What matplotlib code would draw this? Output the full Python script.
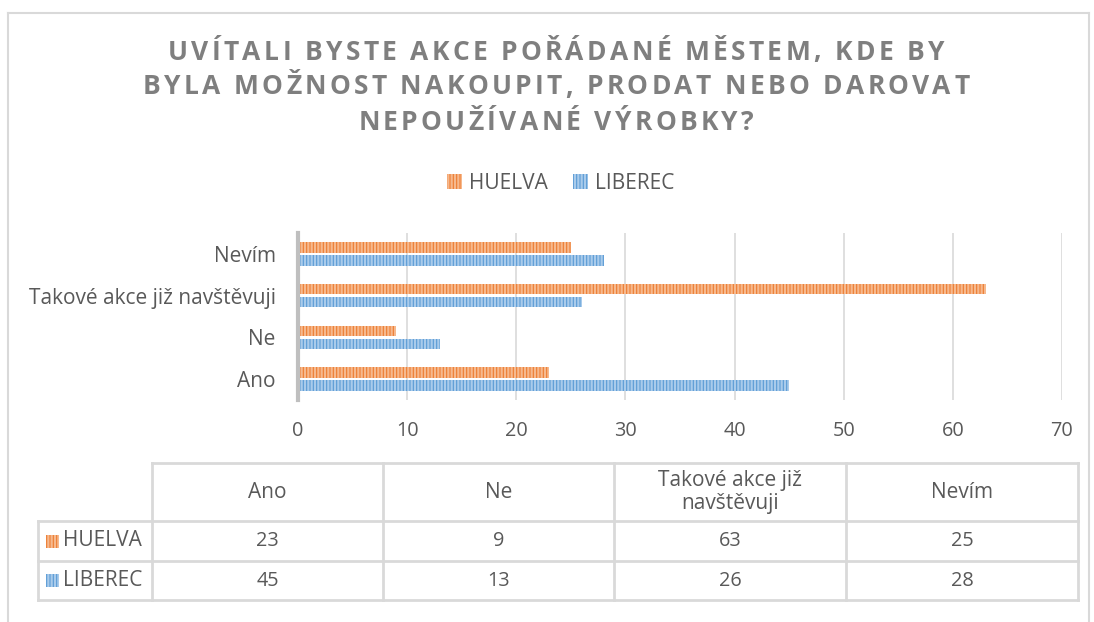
import matplotlib
matplotlib.use("Agg")
import matplotlib.pyplot as plt
from matplotlib.patches import Rectangle
from matplotlib.lines import Line2D
from matplotlib.font_manager import FontProperties
import numpy as np

plt.rcParams['font.family'] = ['Open Sans', 'DejaVu Sans']
plt.rcParams['hatch.linewidth'] = 1.6

# ---- data ----
categories = ["Ano", "Ne", "Takové akce již navštěvuji", "Nevím"]
table_headers = ["Ano", "Ne", "Takové akce již\nnavštěvuji", "Nevím"]
series_names = ["HUELVA", "LIBEREC"]
huelva = [23, 9, 63, 25]
liberec = [45, 13, 26, 28]
x_ticks = [0, 10, 20, 30, 40, 50, 60, 70]
title_lines = ["UVÍTALI BYSTE AKCE POŘÁDANÉ MĚSTEM, KDE BY",
               "BYLA MOŽNOST NAKOUPIT, PRODAT NEBO DAROVAT",
               "NEPOUŽÍVANÉ VÝROBKY?"]

W, H = 1094, 622
TXT = '#595959'
GRID = '#D9D9D9'
OR_FACE, OR_HATCH = '#ED7D31', '#F6B98E'
BL_FACE, BL_HATCH = '#5B9BD5', '#A9CBEB'
FS_WORD = 15
FS_NUM = 14.3

fig = plt.figure(figsize=(W / 100, H / 100), dpi=100)

# overlay in pixel coordinates for frame, title and table
ov = fig.add_axes([0, 0, 1, 1], zorder=0)
ov.set_xlim(0, W)
ov.set_ylim(H, 0)
ov.axis('off')

# outer chart frame
for xs, ys in [((8, 8), (13, H + 5)), ((8, 1089), (13, 13)), ((1089, 1089), (13, H + 5))]:
    ov.add_line(Line2D(xs, ys, color=GRID, lw=1.5))

# ---- title with letter spacing ----
renderer = fig.canvas.get_renderer()
tprop = FontProperties(family=['Open Sans', 'DejaVu Sans'], weight='bold', size=19)


def char_widths(s):
    out = []
    for ch in s:
        if ch == ' ':
            w1, _, _ = renderer.get_text_width_height_descent('a a', tprop, ismath=False)
            w2, _, _ = renderer.get_text_width_height_descent('aa', tprop, ismath=False)
            w = w1 - w2
        else:
            w, _, _ = renderer.get_text_width_height_descent(ch, tprop, ismath=False)
        out.append(w)
    return out


base1 = char_widths(title_lines[0])
spacing = (776 - sum(base1)) / (len(title_lines[0]) - 1)
title_y = [52, 87, 122]
for line, ty in zip(title_lines, title_y):
    ws = char_widths(line)
    total = sum(ws) + spacing * (len(line) - 1)
    x = 556 - total / 2
    for ch, w in zip(line, ws):
        ov.text(x, ty, ch, fontproperties=tprop, color='#7F7F7F', ha='left', va='center')
        x += w + spacing

# ---- bar chart ----
ax = fig.add_axes([298 / W, 1 - 400 / H, (1062 - 298) / W, (400 - 233) / H], zorder=2)
ax.patch.set_alpha(0)
y = np.arange(len(categories))
bh = 0.25
off = 0.155
ax.barh(y + off, huelva, height=bh, color=OR_FACE, edgecolor=OR_HATCH, linewidth=0,
        hatch='|||||', label=series_names[0], zorder=3)
ax.barh(y - off, liberec, height=bh, color=BL_FACE, edgecolor=BL_HATCH, linewidth=0,
        hatch='|||||', label=series_names[1], zorder=3)
ax.set_xlim(0, 70)
ax.set_ylim(-0.5, len(categories) - 0.5)
ax.set_xticks(x_ticks)
ax.set_yticks(y)
ax.set_yticklabels(categories)
ax.tick_params(axis='both', length=0, colors=TXT)
ax.tick_params(axis='y', pad=16, labelsize=FS_WORD)
ax.tick_params(axis='x', pad=15, labelsize=FS_NUM)
ax.xaxis.grid(True, color=GRID, lw=1.2, zorder=0)
ax.set_axisbelow(True)
for s in ['top', 'right', 'bottom']:
    ax.spines[s].set_visible(False)
ax.spines['left'].set_color('#BFBFBF')
ax.spines['left'].set_linewidth(3)
ax.spines['left'].set_zorder(4)

# legend
handles, labels = ax.get_legend_handles_labels()
fig.legend(handles, labels, loc='center', bbox_to_anchor=(561 / W, 1 - 183 / H), ncol=2,
           frameon=False, fontsize=FS_WORD, labelcolor=TXT, handlelength=0.7, handleheight=0.7,
           handletextpad=0.35, columnspacing=1.2)

# ---- data table ----
col_x = [152, 383, 614, 846, 1078]
row_y = [463, 521, 561, 600]
lab_x0 = 38
tc = dict(color=GRID, lw=2)
ov.add_line(Line2D([col_x[0], col_x[-1]], [row_y[0], row_y[0]], **tc))
for cx in col_x:
    ov.add_line(Line2D([cx, cx], [row_y[0], row_y[-1]], **tc))
for ry in row_y[1:]:
    ov.add_line(Line2D([lab_x0, col_x[-1]], [ry, ry], **tc))
ov.add_line(Line2D([lab_x0, lab_x0], [row_y[1], row_y[-1]], **tc))

for i, hdr in enumerate(table_headers):
    cx = (col_x[i] + col_x[i + 1]) / 2
    ov.text(cx, (row_y[0] + row_y[1]) / 2, hdr, ha='center', va='center', fontsize=FS_WORD,
            color=TXT, linespacing=1.15)

rows = [(series_names[0], huelva, OR_FACE, OR_HATCH), (series_names[1], liberec, BL_FACE, BL_HATCH)]
for r, (name, vals, fc, hc) in enumerate(rows):
    cy = (row_y[r + 1] + row_y[r + 2]) / 2
    ov.add_patch(Rectangle((46, cy - 6.5), 13, 13, facecolor=fc, edgecolor=hc, lw=0, hatch='|||||'))
    ov.text(63, cy, name, ha='left', va='center', fontsize=FS_WORD, color=TXT)
    for i, v in enumerate(vals):
        cx = (col_x[i] + col_x[i + 1]) / 2
        ov.text(cx, cy, str(v), ha='center', va='center', fontsize=FS_NUM, color=TXT)

fig.savefig('out.png', dpi=100)
